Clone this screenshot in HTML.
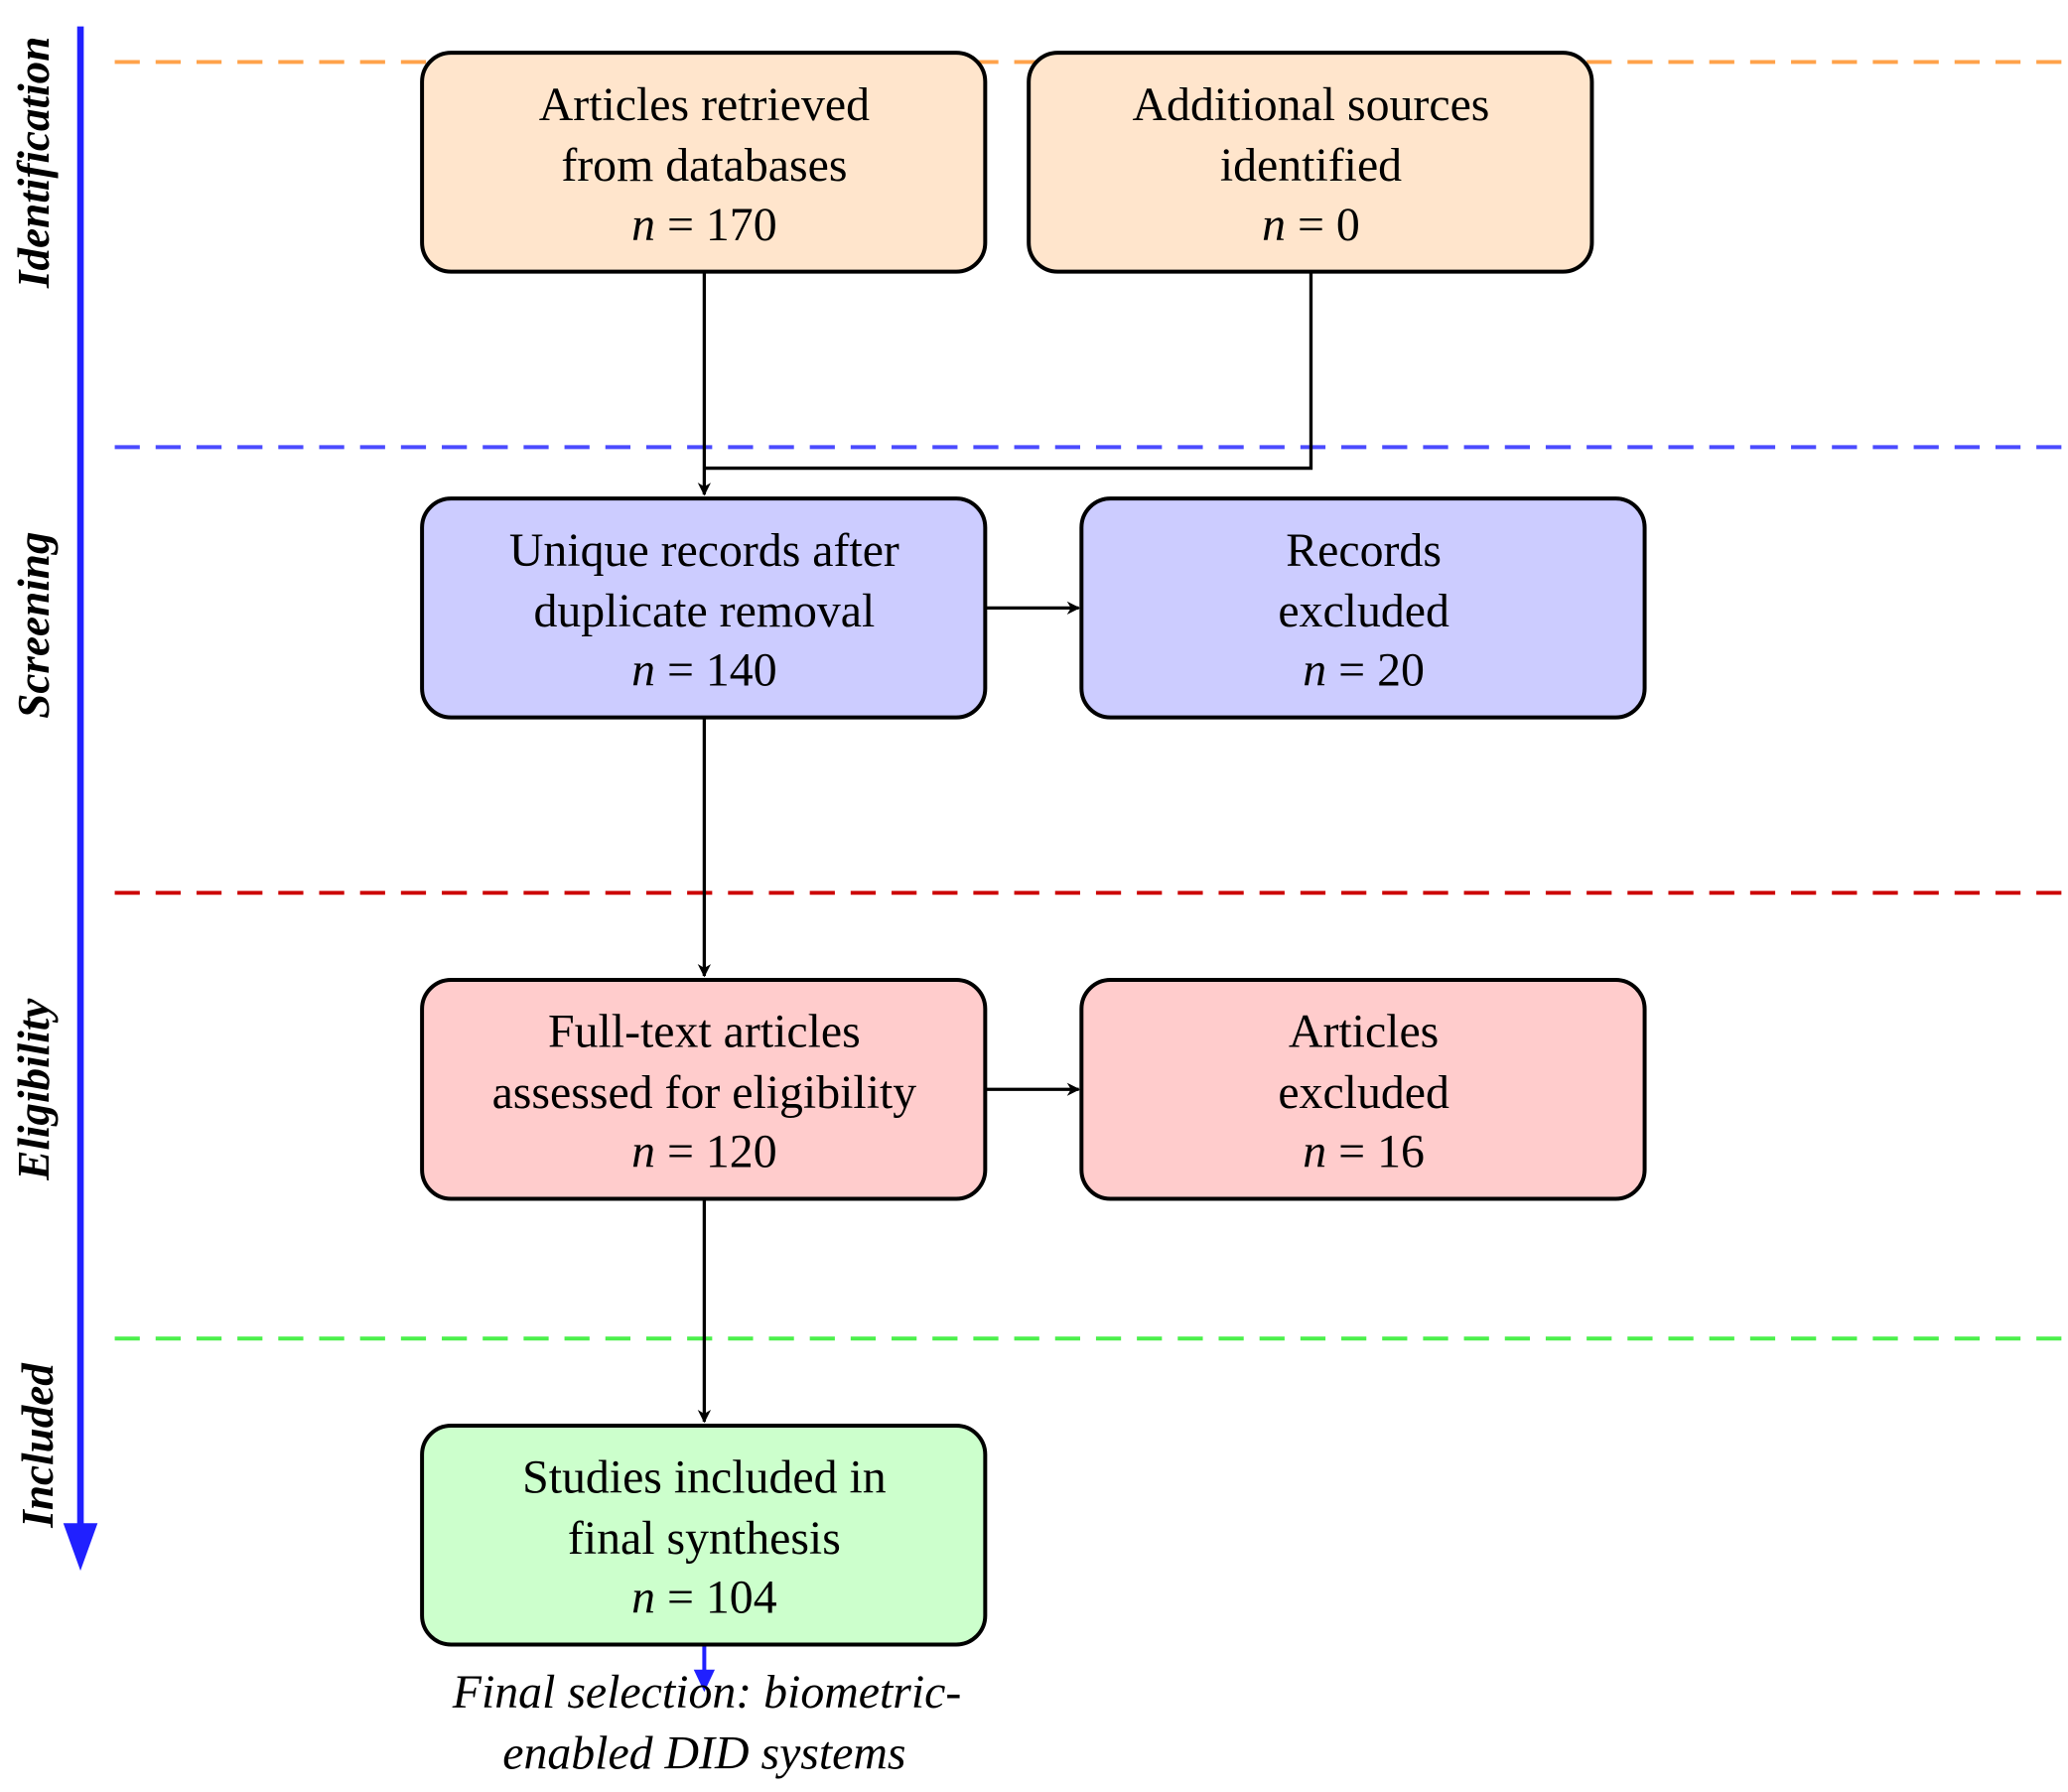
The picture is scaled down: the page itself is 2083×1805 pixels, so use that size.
<!DOCTYPE html>
<html><head><meta charset="utf-8"><style>
html,body{margin:0;padding:0;background:#fff;}
svg{display:block;}
text{font-family:"Liberation Serif",serif;}
</style></head><body>
<svg width="2083" height="1805" viewBox="0 0 1568 1358.8" preserveAspectRatio="none" xmlns="http://www.w3.org/2000/svg">
<defs>
<marker id="ah" markerWidth="10" markerHeight="10" refX="9" refY="5" orient="auto" markerUnits="userSpaceOnUse"><path d="M0,0 L10,5 L0,10 L3,5 z" fill="#000"/></marker>
</defs>
<!-- dashed phase lines -->
<g stroke-width="3" stroke-dasharray="19,12" fill="none">
<line x1="87" y1="47" x2="1568" y2="47" stroke="#FFA24A"/>
<line x1="87" y1="339" x2="1568" y2="339" stroke="#4B4BFF"/>
<line x1="87" y1="677" x2="1568" y2="677" stroke="#CC0000"/>
<line x1="87" y1="1015" x2="1568" y2="1015" stroke="#4BF04B"/>
</g>
<!-- left axis -->
<line x1="61" y1="20" x2="61" y2="1160" stroke="#2020FF" stroke-width="5"/>
<path d="M48,1155 L74,1155 L61,1191 z" fill="#2020FF"/>
<g font-style="italic" font-weight="bold" font-size="34" fill="#000" text-anchor="middle">
<text transform="translate(37,123) rotate(-90)">Identification</text>
<text transform="translate(37,474) rotate(-90)">Screening</text>
<text transform="translate(37,826) rotate(-90)">Eligibility</text>
<text transform="translate(40,1096) rotate(-90)">Included</text>
</g>
<!-- connectors -->
<g stroke="#000" stroke-width="2.5" fill="none">
<line x1="534" y1="206" x2="534" y2="375" marker-end="url(#ah)"/>
<polyline points="994,206 994,355 534,355"/>
<line x1="747" y1="461" x2="818" y2="461" marker-end="url(#ah)"/>
<line x1="534" y1="544" x2="534" y2="740" marker-end="url(#ah)"/>
<line x1="747" y1="826" x2="818" y2="826" marker-end="url(#ah)"/>
<line x1="534" y1="909" x2="534" y2="1078" marker-end="url(#ah)"/>
</g>
<line x1="534" y1="1247" x2="534" y2="1272" stroke="#2020FF" stroke-width="3"/>
<path d="M526,1266 L542,1266 L534,1283 z" fill="#2020FF"/>
<!-- boxes -->
<g stroke="#000" stroke-width="3">
<rect x="320" y="40" width="427" height="166" rx="22" fill="#FFE5CC"/>
<rect x="780" y="40" width="427" height="166" rx="22" fill="#FFE5CC"/>
<rect x="320" y="378" width="427" height="166" rx="22" fill="#CCCCFF"/>
<rect x="820" y="378" width="427" height="166" rx="22" fill="#CCCCFF"/>
<rect x="320" y="743" width="427" height="166" rx="22" fill="#FFCCCC"/>
<rect x="820" y="743" width="427" height="166" rx="22" fill="#FFCCCC"/>
<rect x="320" y="1081" width="427" height="166" rx="22" fill="#CCFFCC"/>
</g>
<g font-size="36" fill="#000" text-anchor="middle">
<text x="534" y="91">Articles retrieved</text>
<text x="534" y="137">from databases</text>
<text x="534" y="182"><tspan font-style="italic">n</tspan>  =  170</text>
<text x="994" y="91">Additional sources</text>
<text x="994" y="137">identified</text>
<text x="994" y="182"><tspan font-style="italic">n</tspan>  =  0</text>
<text x="534" y="429">Unique records after</text>
<text x="534" y="475">duplicate removal</text>
<text x="534" y="520"><tspan font-style="italic">n</tspan>  =  140</text>
<text x="1034" y="429">Records</text>
<text x="1034" y="475">excluded</text>
<text x="1034" y="520"><tspan font-style="italic">n</tspan>  =  20</text>
<text x="534" y="794">Full-text articles</text>
<text x="534" y="840">assessed for eligibility</text>
<text x="534" y="885"><tspan font-style="italic">n</tspan>  =  120</text>
<text x="1034" y="794">Articles</text>
<text x="1034" y="840">excluded</text>
<text x="1034" y="885"><tspan font-style="italic">n</tspan>  =  16</text>
<text x="534" y="1132">Studies included in</text>
<text x="534" y="1178">final synthesis</text>
<text x="534" y="1223"><tspan font-style="italic">n</tspan>  =  104</text>
<g font-style="italic">
<text x="536" y="1295">Final selection: biometric-</text>
<text x="534" y="1341">enabled DID systems</text>
</g>
</g>
</svg>
</body></html>
